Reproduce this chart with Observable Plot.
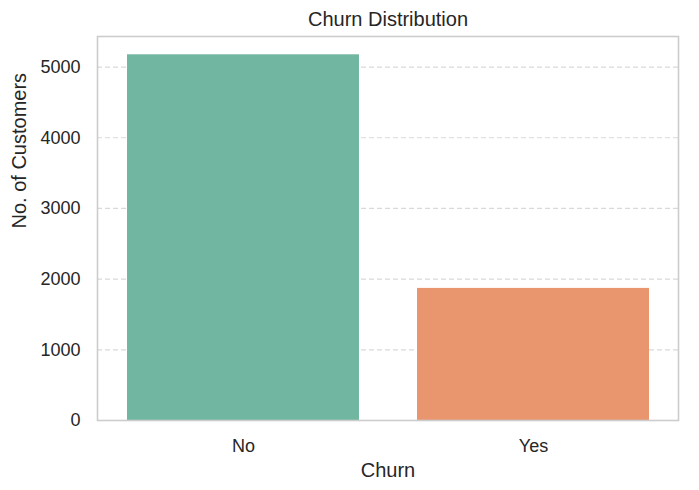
<!DOCTYPE html>
<html><head><meta charset="utf-8">
<script src="https://cdn.jsdelivr.net/npm/d3@7"></script>
<script src="https://cdn.jsdelivr.net/npm/@observablehq/plot@0.6"></script>
<style>html,body{margin:0;padding:0;background:#fff} svg{display:block}</style>
</head><body><div id="chart"></div>
<script>
const categories = ["No", "Yes"];
const counts = [5174, 1869];
const colors = ["#71b6a1", "#e9966f"];
const yTicks = [0, 1000, 2000, 3000, 4000, 5000];
const titleText = "Churn Distribution";
const xLabel = "Churn";
const yLabel = "No. of Customers";

const data = categories.map((c, i) => ({churn: c, count: counts[i]}));
const yMax = Math.max(...counts) * 1.05;

const chart = Plot.plot({
  width: 699, height: 490,
  marginLeft: 97, marginRight: 21, marginTop: 36, marginBottom: 70,
  style: {fontFamily: "'Liberation Sans', Arial, sans-serif", color: "#262626", background: "#fff"},
  x: {domain: categories, paddingInner: 0.2, paddingOuter: 0.1},
  y: {domain: [0, yMax]},
  color: {domain: categories, range: colors},
  marks: [
    Plot.gridY(yTicks, {stroke: "#d9d9d9", strokeOpacity: 1, strokeDasharray: "5,3", strokeWidth: 1.2}),
    Plot.barY(data, {x: "churn", y: "count", fill: "churn"}),
    Plot.frame({stroke: "#cccccc", strokeWidth: 1.6}),
    Plot.axisY(yTicks, {tickSize: 0, tickPadding: 17, fontSize: 18, label: null, tickFormat: d => String(d)}),
    Plot.axisX({tickSize: 0, tickPadding: 19, fontSize: 18, label: null}),
    Plot.text([titleText], {frameAnchor: "top", dy: -11, lineAnchor: "bottom", fontSize: 20, fill: "#262626"}),
    Plot.text([xLabel], {frameAnchor: "bottom", dy: 56, lineAnchor: "bottom", fontSize: 20, fill: "#262626"}),
    Plot.text([yLabel], {frameAnchor: "left", rotate: -90, dx: -78, lineAnchor: "middle", fontSize: 20, fill: "#262626"})
  ]
});
document.getElementById("chart").appendChild(chart);
</script>
</body></html>
